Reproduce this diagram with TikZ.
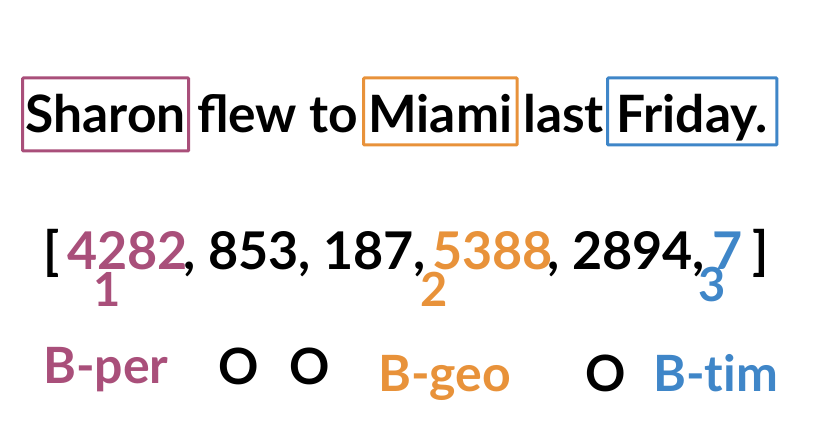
\documentclass[tikz,border=0pt]{standalone}
\usepackage{fontspec}
\setmainfont{Lato}
\definecolor{cper}{HTML}{A94F7A}
\definecolor{cgeo}{HTML}{E8923A}
\definecolor{ctim}{HTML}{3F86C8}
\tikzset{
  word/.style={anchor=base west,inner sep=0pt,font=\fontsize{51.5}{60}\bfseries\selectfont},
  wbox/.style={draw=#1,line width=3pt,rounded corners=1pt,inner ysep=0pt,text height=55pt,text depth=12pt},
  num/.style={anchor=base west,inner sep=0pt,font=\fontsize{52}{60}\bfseries\selectfont},
  idx/.style={anchor=base west,inner sep=0pt,font=\fontsize{47}{55}\bfseries\selectfont},
  tag/.style={anchor=base west,inner sep=0pt,font=\fontsize{50}{60}\bfseries\addfontfeatures{Ligatures=NoCommon}\selectfont}
}
\begin{document}
\begin{tikzpicture}[x=1pt,y=1pt]
\useasboundingbox (0,0) rectangle (821,420);
% sentence
\node[word,wbox=cper,inner xsep=3pt,text depth=18pt] (sharon) at (21,287) {Sharon};
\node[word] (flew) at (197,287) {flew to};
\node[word,wbox=cgeo,inner xsep=5pt] (miami) at (362,287) {Miami};
\node[word] (last) at (523,287) {last};
\node[word,wbox=ctim,inner xsep=9pt] (friday) at (606,287) {Friday.};
% token ids
\node[num] (lb) at (43,150) {[};
\node[num,cper] (n1) at (67,150) {4282};
\node[num] (m1) at (183,150) {, 853, 187,};
\node[num,cgeo] (n2) at (432,150) {5388};
\node[num] (m2) at (547,150) {, 2894,};
\node[num,ctim] (n3) at (712,150) {7};
\node[num] (rb) at (752,150) {]};
\node[idx,cper] (i1) at (93,113) {1};
\node[idx,cgeo] (i2) at (420,113) {2};
\node[idx,ctim] (i3) at (698,118) {3};
% labels
\foreach \x/\y/\c/\t/\n in {43/36/cper/B-per/t1,218/35/black/O/t2,289/35/black/O/t3,
  378/28/cgeo/B-geo/t4,585/28/black/O/t5,653/28/ctim/B-tim/t6}
  \node[tag,text=\c] (\n) at (\x,\y) {\t};
\end{tikzpicture}
\end{document}
